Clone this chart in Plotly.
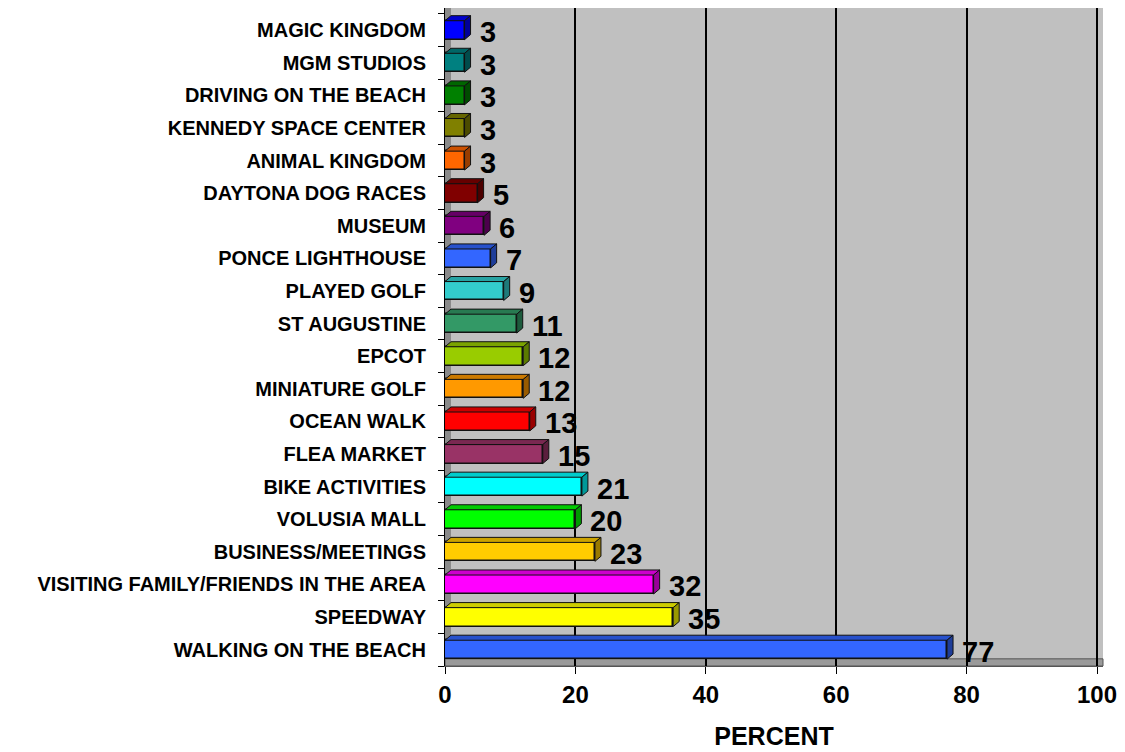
import plotly.graph_objects as go

categories = ["MAGIC KINGDOM", "MGM STUDIOS", "DRIVING ON THE BEACH", "KENNEDY SPACE CENTER",
              "ANIMAL KINGDOM", "DAYTONA DOG RACES", "MUSEUM", "PONCE LIGHTHOUSE",
              "PLAYED GOLF", "ST AUGUSTINE", "EPCOT", "MINIATURE GOLF", "OCEAN WALK",
              "FLEA MARKET", "BIKE ACTIVITIES", "VOLUSIA MALL", "BUSINESS/MEETINGS",
              "VISITING FAMILY/FRIENDS IN THE AREA", "SPEEDWAY", "WALKING ON THE BEACH"]
values = [3, 3, 3, 3, 3, 5, 6, 7, 9, 11, 12, 12, 13, 15, 21, 20, 23, 32, 35, 77]
colors = ["#0000FF", "#008080", "#008000", "#808000", "#FF6600", "#800000", "#800080",
          "#3366FF", "#33CCCC", "#339966", "#99CC00", "#FF9900", "#FF0000", "#993366",
          "#00FFFF", "#00FF00", "#FFCC00", "#FF00FF", "#FFFF00", "#3366FF"]
x_ticks = [0, 20, 40, 60, 80, 100]

FONT = "Liberation Sans, Arial, sans-serif"
n = len(categories)
ypos = [n - 1 - i for i in range(n)]
BW = 0.58          # bar thickness (category units)
DX = 0.92          # depth offset in x units
DY = 0.155         # depth offset in category units


def shade(hexcol, f):
    h = hexcol.lstrip("#")
    r, g, b = (int(h[i:i + 2], 16) for i in (0, 2, 4))
    return "#%02X%02X%02X" % (int(r * f), int(g * f), int(b * f))


fig = go.Figure()
fig.add_trace(go.Bar(
    x=values, y=ypos, orientation="h", width=BW,
    marker=dict(color=colors, line=dict(color="#111111", width=1.5)),
    hoverinfo="skip", showlegend=False,
))

shapes = []
# left wall and floor of the 3D box
shapes.append(dict(type="rect", xref="x", yref="paper", x0=0, x1=DX, y0=0, y1=1,
                   fillcolor="#8a8a8a", line=dict(width=0), layer="below"))
shapes.append(dict(type="rect", xref="paper", yref="y", x0=0, x1=1, y0=-0.5, y1=-0.5 + 0.22,
                   fillcolor="#9a9a9a", line=dict(color="#555555", width=1), layer="below"))

for v, y, c in zip(values, ypos, colors):
    top = y + BW / 2
    bot = y - BW / 2
    # top face
    shapes.append(dict(type="path", xref="x", yref="y",
                       path=f"M 0 {top} L {v} {top} L {v + DX} {top + DY} L {DX} {top + DY} Z",
                       fillcolor=shade(c, 0.8), line=dict(color="#111111", width=1)))
    # side face
    shapes.append(dict(type="path", xref="x", yref="y",
                       path=f"M {v} {bot} L {v} {top} L {v + DX} {top + DY} L {v + DX} {bot + DY} Z",
                       fillcolor=shade(c, 0.6), line=dict(color="#111111", width=1)))

annotations = []
for v, y in zip(values, ypos):
    annotations.append(dict(x=v, y=y, xref="x", yref="y", text=str(v), showarrow=False,
                            xanchor="left", yanchor="middle", xshift=13, yshift=-2,
                            font=dict(family=FONT, size=29, color="black", weight="bold")))

fig.update_layout(
    width=1125, height=752,
    margin=dict(l=445, r=22, t=8, b=86, pad=0),
    paper_bgcolor="white", plot_bgcolor="#C0C0C0",
    font=dict(family=FONT, color="black"),
    shapes=shapes, annotations=annotations,
    bargap=0,
    xaxis=dict(
        range=[0, 100.92], tickvals=x_ticks, ticktext=[str(t) for t in x_ticks],
        showgrid=True, gridcolor="black", gridwidth=2,
        ticks="outside", ticklen=7, tickcolor="black", tickwidth=1,
        tickfont=dict(family=FONT, size=24, color="black", weight="bold"),
        showline=True, linecolor="#555555", linewidth=1,
        zeroline=False,
        title=dict(text="PERCENT", standoff=20,
                   font=dict(family=FONT, size=25, color="black", weight="bold")),
    ),
    yaxis=dict(
        range=[-0.5, 19.68], tickvals=ypos, ticktext=categories,
        showgrid=False, zeroline=False,
        ticks="", ticklabelstandoff=14,
        tickfont=dict(family=FONT, size=20, color="black", weight="bold"),
        showline=True, linecolor="black", linewidth=1,
        minor=dict(ticks="outside", tick0=0.5, dtick=1, ticklen=6, tickcolor="black", showgrid=False),
    ),
)

fig.write_html("out.html")
